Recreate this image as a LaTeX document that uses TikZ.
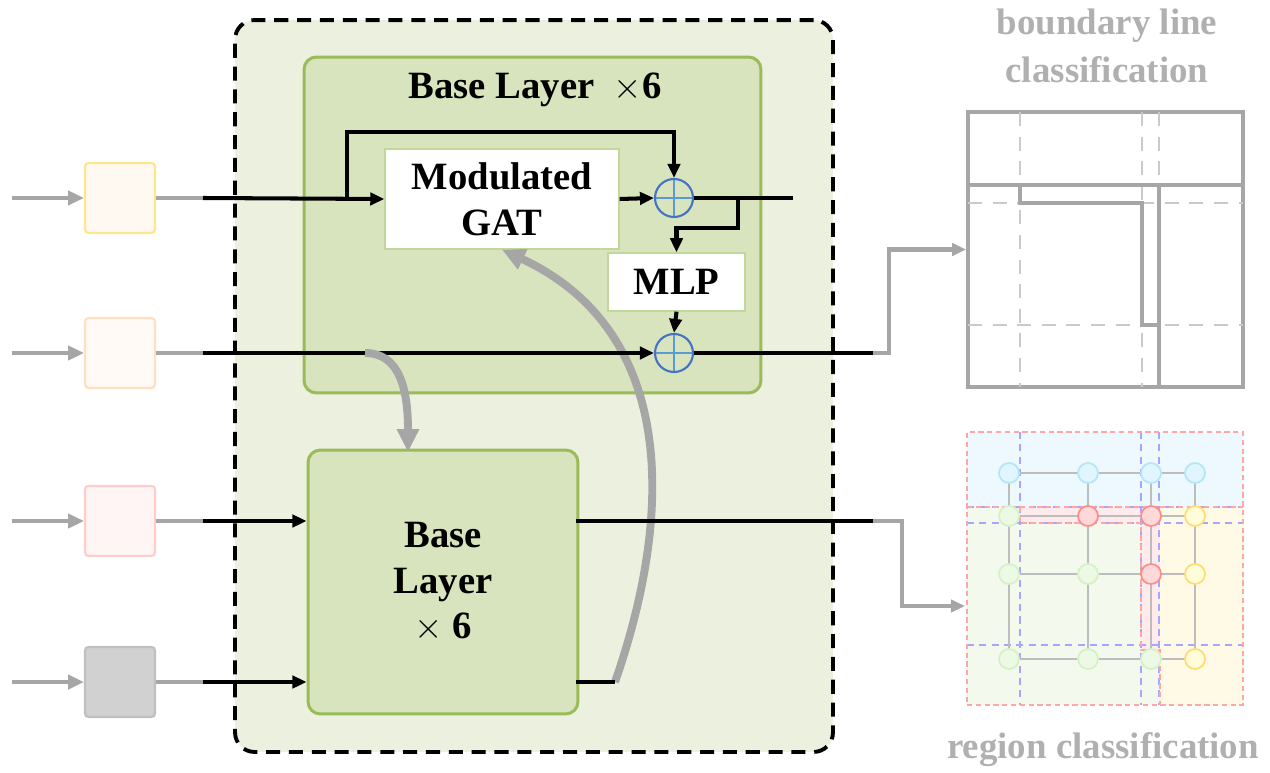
\documentclass[tikz,border=0pt]{standalone}
\usepackage{fontspec}
\setmainfont{Liberation Serif}
\usetikzlibrary{positioning, calc, arrows.meta}

\definecolor{outerbg}{HTML}{EBF1DE}
\definecolor{boxbg}{HTML}{D7E4BD}
\definecolor{boxline}{HTML}{9BBB59}
\definecolor{wline}{HTML}{C3D69B}
\definecolor{plusout}{HTML}{4472C4}
\definecolor{plusin}{HTML}{5B9BD5}
\definecolor{conn}{HTML}{A6A6A6}
\definecolor{txtgray}{HTML}{B0B0B0}
\definecolor{edgegray}{HTML}{BDBDBD}

\begin{document}
\begin{tikzpicture}[x=0.02cm, y=-0.02cm,
  >={Triangle[length=8pt,width=7pt]},
  lbl/.style={font=\fontsize{22}{26}\selectfont\bfseries, align=center},
  gtxt/.style={font=\fontsize{21}{27}\selectfont\bfseries, align=center, text=txtgray},
  outer/.style={draw=black, fill=outerbg, line width=2.2pt, dash pattern=on 8pt off 5pt, rounded corners=11pt},
  box/.style={draw=boxline, fill=boxbg, line width=1.7pt, rounded corners=7pt},
  wbox/.style={draw=wline, fill=white, line width=0.8pt, lbl},
  plus/.style={circle, draw=plusout, line width=1.2pt, minimum size=0.76cm, inner sep=0pt,
    path picture={\draw[plusin, line width=1pt]
      (path picture bounding box.north) -- (path picture bounding box.south)
      (path picture bounding box.west) -- (path picture bounding box.east);}},
  insq/.style={minimum size=1.4cm, line width=1.2pt, rounded corners=2pt},
  bline/.style={draw=black, line width=2.3pt},
  gline/.style={draw=conn, line width=2.3pt},
  gthick/.style={draw=conn, line width=4.5pt, -{Triangle[length=13pt,width=12pt]}},
  rdash/.style={draw=red!35, line width=0.8pt, dash pattern=on 3pt off 2pt},
  bdash/.style={draw=blue!35, line width=0.8pt, dash pattern=on 4pt off 3pt},
  gnode/.style={circle, minimum size=0.4cm, inner sep=0pt, line width=1pt},
  nb/.style={fill=cyan!12, draw=cyan!30},
  ng/.style={fill=green!50!olive!10, draw=green!50!olive!22},
  nr/.style={fill=red!15, draw=red!45},
  ny/.style={fill=yellow!15, draw=orange!50!yellow!55}]

\useasboundingbox (0,0) rectangle (1270,773);

% encoder block
\node[outer, minimum width=11.96cm, minimum height=14.64cm] (blk) at (534,386) {};
\node[box, minimum width=9.14cm, minimum height=6.72cm] (top) at (532.5,225) {};
\node[lbl] (ttl) at (535,90) {Base Layer \ $\times$6};
\node[wbox, minimum width=4.68cm, minimum height=2cm] (gat) at (502,199) {Modulated\\GAT};
\node[wbox, minimum width=2.74cm, minimum height=1.16cm] (mlp) at (676.5,282) {MLP};
\node[plus] (add1) at (674,198) {};
\node[plus] (add2) at (674,353) {};
\node[box, lbl, minimum width=5.4cm, minimum height=5.28cm] (bot) at (443,582) {Base\\Layer\\$\times$ 6};

% inputs
\node[insq, draw=orange!45!yellow!45, fill=orange!5] (in1) at (120,198) {};
\node[insq, draw=orange!25, fill=orange!4] (in2) at (120,353) {};
\node[insq, draw=red!20, fill=red!4] (in3) at (120,521) {};
\node[insq, draw=black!25, fill=black!18] (in4) at (120,682) {};

\foreach \i/\y in {1/198,2/353,3/521,4/682} {
  \coordinate (l\i) at (12,\y);
  \coordinate (s\i) at (203,\y);
  \draw[gline, -{Triangle[length=9pt,width=8pt]}] (l\i) -- (in\i.west);
  \draw[gline] (in\i.east) -- (s\i);
}

% big feedback curve
\coordinate (o4) at (615,682);
\draw[gthick] (o4) .. controls (675,510) and (675,330) .. (gat.south);

% top base layer
\coordinate (b1) at (347,198);
\coordinate (skip) at (347,132);
\coordinate (b2) at (738,198);
\coordinate (b2d) at (738,228);
\coordinate (o1) at (793,198);
\coordinate (o2) at (873,353);
\draw[bline,->] (s1) -- (gat.west);
\draw[bline,->] (b1) -- (skip) -| (add1.north);
\draw[bline,->] (gat.east) -- (add1.west);
\draw[bline] (add1.east) -- (o1);
\draw[bline,->] (b2) -- (b2d) -| (mlp.north);
\draw[bline,->] (mlp.south) -- (add2.north);
\draw[bline,->] (s2) -- (add2.west);
\draw[bline] (add2.east) -- (o2);

% bottom base layer
\coordinate (o3) at (873,521);
\draw[bline,->] (s3) -- (s3 -| bot.west);
\draw[bline,->] (s4) -- (s4 -| bot.west);
\draw[bline] ($(o3 -| bot.east)+(-3,0)$) -- (o3);
\draw[bline] ($(o4 -| bot.east)+(-3,0)$) -- (o4);

\coordinate (t2) at (365,353);
\coordinate (bin) at (408,452);
\draw[gthick] (t2) .. controls (400,353) and (408,390) .. (bin);

% boundary line classification
\node[gtxt] (bndt) at (1107,46) {boundary line\\classification};
\node[draw=conn, line width=2.2pt, minimum size=5.5cm] (bnd) at (1105.5,249.5) {};
\foreach \x in {1020,1142,1159}
  \draw[conn!60, line width=1.4pt, dash pattern=on 8pt off 6pt] (\x,112) -- (\x,387);
\foreach \y in {203,325}
  \draw[conn!60, line width=1.4pt, dash pattern=on 8pt off 6pt] (968,\y) -- (1243,\y);
\draw[conn, line width=2.2pt] (968,185) -- (1243,185);
\draw[conn, line width=2.2pt] (1020,185) -- (1020,203) -- (1142,203) -- (1142,325) -- (1159,325);
\draw[conn, line width=2.2pt] (1159,185) -- (1159,387);

\coordinate (k1) at (889,353);
\draw[gline,->] (o2) -- (k1) |- (bnd.west);

% region classification
\fill[cyan!7] (967,432) rectangle (1243,507);
\fill[green!40!olive!7] (967,507) rectangle (1160,705);
\fill[orange!40!yellow!10] (1160,507) rectangle (1243,705);
\fill[red!8] (1020,507) rectangle (1160,523);
\fill[red!8] (1141,523) rectangle (1160,650);
\foreach \x in {1020,1141,1159}
  \draw[bdash] (\x,432) -- (\x,705);
\foreach \y in {507,523,645}
  \draw[bdash] (967,\y) -- (1243,\y);
\node[rdash, minimum width=5.52cm, minimum height=5.46cm] (reg) at (1105,568.5) {};
\draw[rdash] (967,507) -- (1243,507);
\draw[rdash] (1020,507) -- (1020,523) -- (1141,523) -- (1141,650) -- (1160,650) -- (1160,705);

\foreach \r/\y in {1/473,2/516,3/574,4/659}
  \foreach \c/\x in {1/1009,2/1088,3/1151,4/1195}
    \coordinate (g\r\c) at (\x,\y);
\foreach \r in {1,...,4}
  \foreach \c/\d in {1/2,2/3,3/4} {
    \draw[edgegray, line width=1.4pt] (g\r\c) -- (g\r\d);
    \draw[edgegray, line width=1.4pt] (g\c\r) -- (g\d\r);
  }
\foreach \r/\ca/\cb/\cc/\cd in {1/nb/nb/nb/nb, 2/ng/nr/nr/ny, 3/ng/ng/nr/ny, 4/ng/ng/ng/ny}
  \foreach \c/\k in {1/\ca,2/\cb,3/\cc,4/\cd}
    \node[gnode,\k] (n\r\c) at (g\r\c) {};

\coordinate (k2) at (902,521);
\coordinate (rin) at (965,606);
\draw[gline,->] (o3) -- (k2) |- (rin);
\node[gtxt] (regt) at (1103,750) {region classification};

\end{tikzpicture}
\end{document}
